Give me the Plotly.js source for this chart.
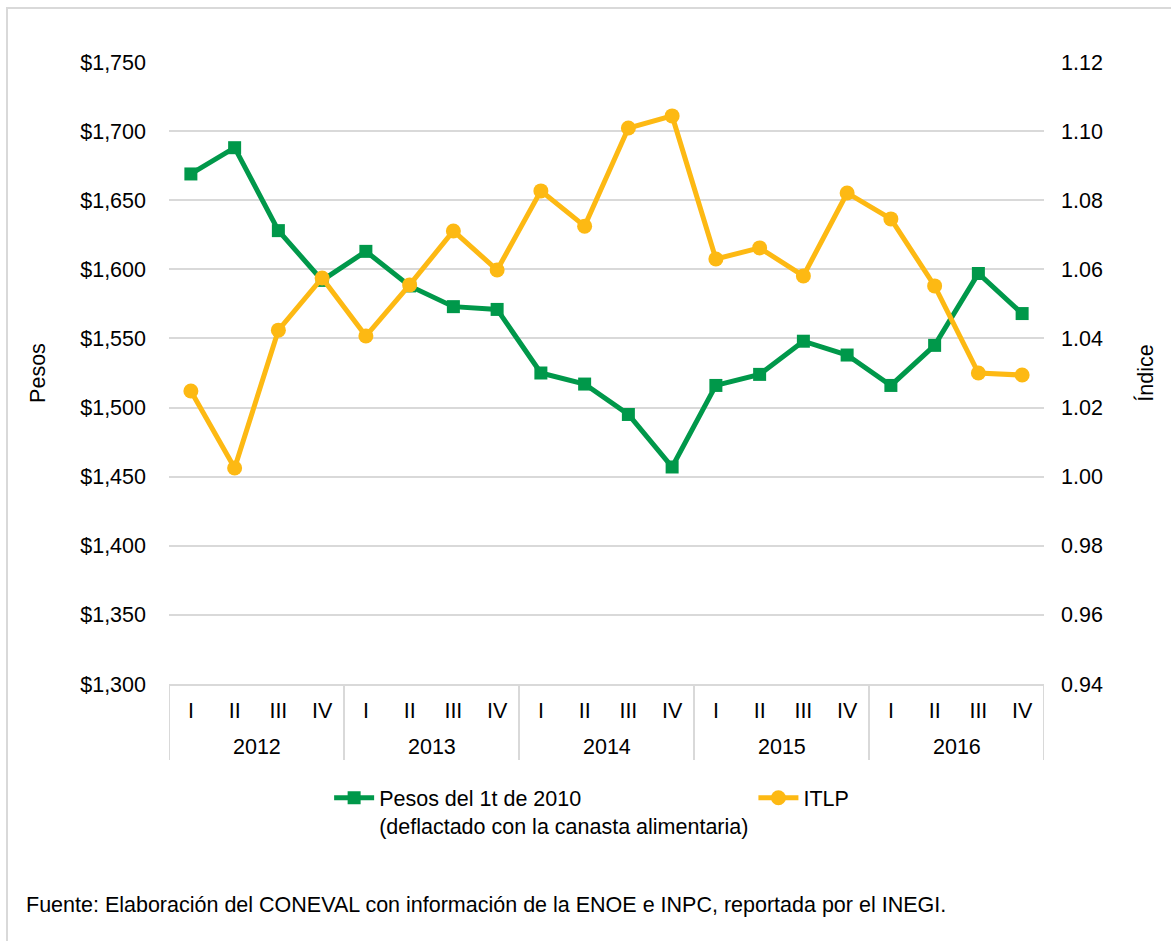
<!DOCTYPE html>
<html>
<head>
<meta charset="utf-8">
<script src="https://cdn.plot.ly/plotly-3.0.1.min.js"></script>
<style>
  html, body { margin: 0; padding: 0; background: #fff; }
  #chart { width: 1171px; height: 941px; }
  #frame { position: absolute; left: 6px; top: 7px; width: 1200px; height: 1000px;
           border-left: 2px solid #d9d9d9; border-top: 2px solid #d9d9d9; pointer-events: none; }
</style>
</head>
<body>
<div id="chart"></div>
<div id="frame"></div>
<script>
const years = ['2012', '2013', '2014', '2015', '2016'];
const quarters = ['I', 'II', 'III', 'IV'];
const pesos = [1669, 1688, 1628, 1592, 1613, 1588, 1573, 1571, 1525, 1517, 1495, 1457,
               1516, 1524, 1548, 1538, 1516, 1545, 1597, 1568];
const itlp = [1.0248, 1.0025, 1.0424, 1.0575, 1.0407, 1.0555, 1.0711, 1.0598, 1.0827, 1.0725,
              1.1009, 1.1044, 1.0630, 1.0662, 1.0581, 1.0821, 1.0746, 1.0552, 1.0300, 1.0294];
const pesosName = 'Pesos del 1t de 2010<br>(deflactado con la canasta alimentaria)';
const itlpName = 'ITLP';
const footnote = 'Fuente: Elaboración del CONEVAL con información de la ENOE e INPC, reportada por el INEGI.';

// category keys and labels built from the small arrays
const xKeys = [], xLabels = [];
years.forEach(y => quarters.forEach(q => { xKeys.push(y + ' ' + q); xLabels.push(q); }));
const nQ = quarters.length;
const xRange = [-0.5, xKeys.length - 0.5];

const green = '#00984A';
const orange = '#FDB913';
const divColor = '#d9d9d9';
const font = { family: 'Liberation Sans, Arial, sans-serif', size: 21.5, color: '#000' };

const traces = [
  { type: 'scatter', mode: 'lines+markers', name: pesosName, x: xKeys, y: pesos,
    line: { color: green, width: 5 }, marker: { symbol: 'square', size: 13, color: green },
    xaxis: 'x', yaxis: 'y' },
  { type: 'scatter', mode: 'lines+markers', name: itlpName, x: xKeys, y: itlp,
    line: { color: orange, width: 5 }, marker: { symbol: 'circle', size: 15, color: orange },
    xaxis: 'x', yaxis: 'y2' }
];

// year group labels and dividers under the category axis
const annotations = years.map((y, i) => ({
  text: y, xref: 'x', yref: 'paper', x: i * nQ + (nQ - 1) / 2, y: -0.1013,
  xanchor: 'center', yanchor: 'middle', showarrow: false, font: font
}));
annotations.push({ text: footnote, xref: 'paper', yref: 'paper', x: -0.1657, y: -0.356,
  xanchor: 'left', yanchor: 'middle', showarrow: false, font: font });

const shapes = [];
for (let i = 0; i <= years.length; i++) {
  shapes.push({ type: 'line', xref: 'x', yref: 'paper', x0: i * nQ - 0.5, x1: i * nQ - 0.5,
                y0: 0, y1: -0.1222, line: { color: divColor, width: 2 } });
}

const layout = {
  width: 1171, height: 941,
  margin: { l: 169, r: 127, t: 62, b: 257 },
  paper_bgcolor: '#fff', plot_bgcolor: '#fff',
  font: font,
  showlegend: true,
  legend: { orientation: 'h', x: 0.483, xanchor: 'center', y: -0.15, yanchor: 'top',
            font: font, itemwidth: 40, traceorder: 'normal', valign: 'top' },
  xaxis: { type: 'category', range: xRange, tickmode: 'array', tickvals: xKeys, ticktext: xLabels,
           showgrid: false, ticks: '', showline: true, linecolor: divColor, linewidth: 2,
           zeroline: false, tickfont: font, ticklabelstandoff: 6 },
  yaxis: { range: [1300, 1750], dtick: 50, tickprefix: '$', tickformat: ',d', showgrid: true,
           gridcolor: divColor, gridwidth: 2, zeroline: false, showline: false, ticks: '',
           ticklabelstandoff: 22, tickfont: font,
           title: { text: 'Pesos', font: font, standoff: 28 } },
  yaxis2: { range: [0.94, 1.12], dtick: 0.02, tickformat: '.2f', overlaying: 'y', side: 'right',
            showgrid: false, zeroline: false, showline: false, ticks: '', ticklabelstandoff: 16,
            tickfont: font, title: { text: 'Índice', font: font, standoff: 36 } },
  annotations: annotations,
  shapes: shapes
};

Plotly.newPlot('chart', traces, layout, { displayModeBar: false, staticPlot: true });
</script>
</body>
</html>
